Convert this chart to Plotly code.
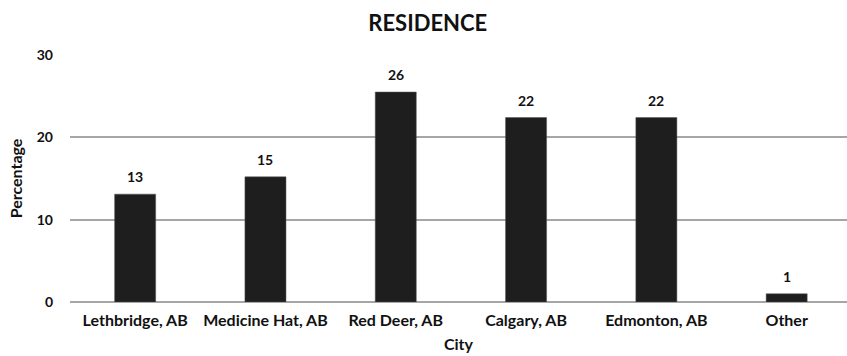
import plotly.graph_objects as go

cities = ["Lethbridge, AB", "Medicine Hat, AB", "Red Deer, AB", "Calgary, AB", "Edmonton, AB", "Other"]
percent = [13.1, 15.2, 25.5, 22.4, 22.4, 1.0]
labels = ["13", "15", "26", "22", "22", "1"]
y_ticks = [0, 10, 20, 30]

FONT = "Lato"

fig = go.Figure(go.Bar(
    x=cities, y=percent,
    marker=dict(color="#1e1e1e", line=dict(color="#555555", width=0.5)),
    width=0.315,
))

for c, v, t in zip(cities, percent, labels):
    fig.add_annotation(x=c, y=v, text=f"<b>{t}</b>", showarrow=False,
                       yanchor="bottom", yshift=7,
                       font=dict(family=FONT, size=14, color="#111111"))

fig.update_layout(
    width=847, height=356,
    margin=dict(l=70, r=0, t=55, b=54),
    paper_bgcolor="white", plot_bgcolor="white",
    showlegend=False,
    title=dict(text="<b>RESIDENCE</b>", x=0.505, xanchor="center", y=0.935, yanchor="middle",
               font=dict(family=FONT, size=22, color="#111111")),
    font=dict(family=FONT, color="#111111"),
)
fig.update_xaxes(
    range=[-0.5, 5.463], showgrid=False, showline=False, ticks="",
    ticklabelstandoff=7, automargin=False,
    tickfont=dict(family=FONT, size=16, color="#111111", weight="bold"),
    title=dict(text="<b>City</b>", font=dict(family=FONT, size=16, color="#111111"), standoff=10),
)
fig.update_yaxes(
    range=[0, 30], tickvals=y_ticks, showgrid=True, gridcolor="#a6a6a6", gridwidth=1.5,
    zeroline=True, zerolinecolor="#a6a6a6", zerolinewidth=1.5, showline=False, ticks="",
    ticklabelstandoff=16, automargin=False,
    tickfont=dict(family=FONT, size=14, color="#111111", weight="bold"),
    title=dict(text="<b>Percentage</b>", font=dict(family=FONT, size=16, color="#111111"), standoff=10),
)

fig.write_html("out.html")
